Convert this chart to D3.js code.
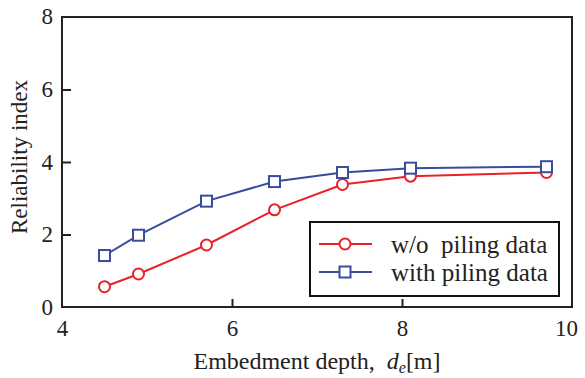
<!DOCTYPE html>
<html>
<head>
<meta charset="utf-8">
<script src="https://cdn.jsdelivr.net/npm/d3@7"></script>
<style>
  body { margin: 0; background: #fff; }
  svg text { font-family: "Liberation Serif", "Times New Roman", serif; fill: #222; white-space: pre; }
</style>
</head>
<body>
<div id="chart" style="width:585px;height:378px"></div>
<script>
// Reliability index vs embedment depth

// Data
const depths = [4.5, 4.9, 5.7, 6.5, 7.3, 8.1, 9.7];
const withoutPiling = [0.56, 0.91, 1.71, 2.68, 3.38, 3.61, 3.71];
const withPiling = [1.42, 1.98, 2.92, 3.46, 3.71, 3.83, 3.87];
const xTicks = [4, 6, 8, 10];
const yTicks = [0, 2, 4, 6, 8];
const labels = ["w/o  piling data", "with piling data"];
const colours = ["#e8212b", "#3a4c9e"];

const width = 585, height = 378;
const margin = { top: 17, right: 13, bottom: 71, left: 62 };

let svg = d3.select("#chart").append("svg")
    .attr("width", width)
    .attr("height", height);

// Scales
let x = d3.scaleLinear()
    .domain([4, 10])
    .range([margin.left, width - margin.right]);
let y = d3.scaleLinear()
    .domain([0, 8])
    .range([height - margin.bottom, margin.top]);

// Plot frame
svg.append("rect")
    .attr("x", x(4)).attr("y", y(8))
    .attr("width", x(10) - x(4)).attr("height", y(0) - y(8))
    .attr("fill", "none").attr("stroke", "#222").attr("stroke-width", 2);

// X axis, ticks pointing inward
let xAxis = svg.append("g")
    .attr("transform", "translate(0," + y(0) + ")")
    .call(d3.axisBottom(x).tickValues(xTicks).tickFormat(d3.format("d"))
        .tickSizeInner(-8).tickSizeOuter(0).tickPadding(13));
xAxis.attr("font-family", null);
xAxis.select(".domain").remove();
xAxis.selectAll("line").attr("stroke", "#222").attr("stroke-width", 2);
xAxis.selectAll("text").style("font-size", "23px").attr("fill", "#222");
xAxis.selectAll(".tick").filter(d => d === 4 || d === 10).select("line").remove();
xAxis.selectAll(".tick").filter(d => d === 10).select("text").attr("dx", -6);

// Y axis, ticks pointing inward
let yAxis = svg.append("g")
    .attr("transform", "translate(" + x(4) + ",0)")
    .call(d3.axisLeft(y).tickValues(yTicks).tickFormat(d3.format("d"))
        .tickSizeInner(-9).tickSizeOuter(0).tickPadding(9));
yAxis.attr("font-family", null);
yAxis.select(".domain").remove();
yAxis.selectAll("line").attr("stroke", "#222").attr("stroke-width", 2);
yAxis.selectAll("text").style("font-size", "23px").attr("fill", "#222");
yAxis.selectAll(".tick").filter(d => d === 0 || d === 8).select("line").remove();
yAxis.selectAll(".tick").filter(d => d === 8).select("text").attr("dy", "0.3em");

// Axis titles
svg.append("text")
    .attr("transform", "translate(19," + ((y(0) + y(8)) / 2 - 5) + ") rotate(-90)")
    .attr("text-anchor", "middle")
    .attr("dy", "0.35em")
    .style("font-size", "23px")
    .text("Reliability index");

let xt = svg.append("text")
    .attr("x", (x(4) + x(10)) / 2)
    .attr("y", 369)
    .attr("text-anchor", "middle")
    .style("font-size", "24px");
xt.append("tspan").text("Embedment depth,  ");
xt.append("tspan").text("d").style("font-style", "italic");
xt.append("tspan").text("e").style("font-style", "italic").style("font-size", "16px").attr("dy", 4);
xt.append("tspan").text("[m]").attr("dy", -4);

// Lines and markers
let series = [withoutPiling, withPiling];
let line = d3.line()
    .x((d, i) => x(depths[i]))
    .y(d => y(d));

for (let s = 0; s < series.length; s++) {
    svg.append("path")
        .datum(series[s])
        .attr("fill", "none")
        .attr("stroke", colours[s])
        .attr("stroke-width", 2)
        .attr("d", line);
}

function drawMarker(g, s, cx, cy) {
    if (s === 0) {
        g.append("circle")
            .attr("cx", cx).attr("cy", cy).attr("r", 5.5)
            .attr("fill", "#fff").attr("stroke", colours[s]).attr("stroke-width", 2);
    } else {
        g.append("rect")
            .attr("x", cx - 5.5).attr("y", cy - 5.5)
            .attr("width", 11).attr("height", 11)
            .attr("fill", "#fff").attr("stroke", colours[s]).attr("stroke-width", 2);
    }
}

for (let s = 0; s < series.length; s++) {
    for (let i = 0; i < depths.length; i++) {
        drawMarker(svg, s, x(depths[i]), y(series[s][i]));
    }
}

// Legend
let lx = 310, ly = 222, lw = 249, lh = 74;
svg.append("rect")
    .attr("x", lx).attr("y", ly).attr("width", lw).attr("height", lh)
    .attr("fill", "#fff").attr("stroke", "#111").attr("stroke-width", 2);
let rows = [244, 272];
for (let s = 0; s < labels.length; s++) {
    svg.append("line")
        .attr("x1", lx + 9).attr("x2", lx + 62)
        .attr("y1", rows[s]).attr("y2", rows[s])
        .attr("stroke", colours[s]).attr("stroke-width", 2);
    drawMarker(svg, s, lx + 35, rows[s]);
    svg.append("text")
        .attr("x", lx + 81).attr("y", rows[s])
        .attr("dy", "0.35em")
        .style("font-size", "25px")
        .text(labels[s]);
}
</script>
</body>
</html>
